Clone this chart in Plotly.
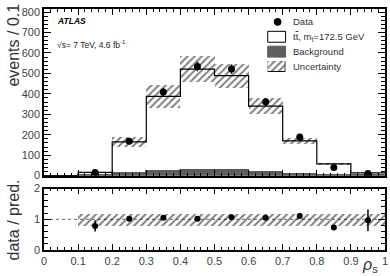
import plotly.graph_objects as go

# ---- data ----
edges = [0.0, 0.1, 0.2, 0.3, 0.4, 0.5, 0.6, 0.7, 0.8, 0.9, 1.0]
centers = [0.05, 0.15, 0.25, 0.35, 0.45, 0.55, 0.65, 0.75, 0.85, 0.95]
mc_total = [0, 16, 165, 388, 521, 489, 340, 170, 57, 13]
background = [0, 3, 13, 23, 28, 29, 19, 6, 2, 1]
mc_unc = [0, 4, 25, 55, 65, 59, 40, 16, 6, 2]
data_x = [0.15, 0.25, 0.35, 0.45, 0.55, 0.65, 0.75, 0.85, 0.95]
data_y = [15, 168, 409, 534, 521, 361, 189, 40, 11]
data_err = [4, 13, 20, 23, 23, 19, 14, 6, 3]
ratio_y = [0.78, 1.02, 1.05, 1.02, 1.07, 1.05, 1.11, 0.73, 0.97]
ratio_err = [0.18, 0.08, 0.05, 0.05, 0.05, 0.06, 0.08, 0.06, 0.35]
band_x = [0.15, 0.25, 0.35, 0.45, 0.55, 0.65, 0.75, 0.85, 0.95]
band_unc = [0.19, 0.19, 0.19, 0.19, 0.19, 0.19, 0.19, 0.19, 0.19]
legend_labels = ["Data", "t<span style='text-decoration:overline'>t</span>, m<sub>t</sub>=172.5 GeV", "Background", "Uncertainty"]

FONT = "Liberation Sans, Arial, sans-serif"
HATCH = dict(shape="/", fgcolor="black", bgcolor="rgba(0,0,0,0)", size=5, solidity=0.4)
BG_COLOR = "#5e5e5e"

fig = go.Figure()

# background histogram
fig.add_trace(go.Bar(x=centers, y=background, width=0.1, marker=dict(color=BG_COLOR, line=dict(color="#3a3a3a", width=0.8)),
                     showlegend=False, xaxis="x", yaxis="y"))
# total prediction step line
fig.add_trace(go.Scatter(x=edges, y=mc_total + [mc_total[-1]], mode="lines", line=dict(shape="hv", color="black", width=1.2),
                         showlegend=False, xaxis="x", yaxis="y", hoverinfo="skip"))
# uncertainty band
fig.add_trace(go.Bar(x=centers, y=[2 * u for u in mc_unc], base=[t - u for t, u in zip(mc_total, mc_unc)], width=0.1,
                     marker=dict(color="rgba(0,0,0,0)", line=dict(width=0), pattern=HATCH),
                     showlegend=False, xaxis="x", yaxis="y"))
# data
fig.add_trace(go.Scatter(x=data_x, y=data_y, mode="markers", marker=dict(color="black", size=7),
                         error_y=dict(array=data_err, color="black", thickness=1.5, width=0),
                         showlegend=False, xaxis="x", yaxis="y"))

# ratio band
fig.add_trace(go.Bar(x=band_x, y=[2 * u for u in band_unc], base=[1 - u for u in band_unc], width=0.1,
                     marker=dict(color="rgba(0,0,0,0)", line=dict(width=0), pattern=HATCH),
                     showlegend=False, xaxis="x2", yaxis="y2"))
fig.add_trace(go.Scatter(x=data_x, y=ratio_y, mode="markers", marker=dict(color="black", size=6),
                         error_y=dict(array=ratio_err, color="black", thickness=1.5, width=0),
                         showlegend=False, xaxis="x2", yaxis="y2"))

# legend swatch for uncertainty (hatched box on its own tiny axis)
fig.add_trace(go.Bar(x=[0.5], y=[1], width=1, marker=dict(color="white", line=dict(color="black", width=1),
                     pattern=dict(shape="/", fgcolor="black", bgcolor="white", size=5, solidity=0.4)),
                     showlegend=False, xaxis="x3", yaxis="y3", hoverinfo="skip"))

fig.add_shape(type="line", xref="x2", yref="y2", x0=0, x1=1, y0=1, y1=1, line=dict(color="#888", width=1.2, dash="dot"), layer="below")

# ---- custom legend ----
def px2x(px):
    return (px - 44) / 343.0

def py2y(py):
    return (250 - py) / 243.0

rows = [20, 35, 50, 65]
fig.add_shape(type="circle", xref="paper", yref="paper", x0=px2x(275.5), x1=px2x(282.5), y0=py2y(23.5), y1=py2y(16.5),
              fillcolor="black", line=dict(color="black", width=1))
fig.add_shape(type="rect", xref="paper", yref="paper", x0=px2x(269), x1=px2x(287), y0=py2y(40.5), y1=py2y(29.5),
              fillcolor="white", line=dict(color="black", width=1))
fig.add_shape(type="rect", xref="paper", yref="paper", x0=px2x(269), x1=px2x(287), y0=py2y(55.5), y1=py2y(44.5),
              fillcolor=BG_COLOR, line=dict(color=BG_COLOR, width=1))
for lab, r in zip(legend_labels, rows):
    fig.add_annotation(text=lab, x=px2x(292), y=py2y(r), xref="paper", yref="paper", xanchor="left", yanchor="middle",
                       showarrow=False, font=dict(family=FONT, size=9.5, color="#333"))

axis_common = dict(showline=True, linecolor="black", linewidth=1.5, mirror="allticks", ticks="inside",
                   tickcolor="black", showgrid=False, zeroline=False,
                   tickfont=dict(family=FONT, size=11, color="#444"))

fig.update_layout(
    width=390, height=276, margin=dict(l=44, r=3, t=7, b=26),
    plot_bgcolor="white", paper_bgcolor="white", barmode="overlay", bargap=0, showlegend=False,
    xaxis=dict(domain=[0, 1], range=[0, 1], anchor="y", dtick=0.1, ticklen=6, showticklabels=False,
               minor=dict(dtick=0.02, ticks="inside", ticklen=3, tickcolor="black"), **axis_common),
    yaxis=dict(domain=[0.3086, 1], range=[0, 815], anchor="x", dtick=100, ticklen=7,
               minor=dict(dtick=20, ticks="inside", ticklen=4, tickcolor="black"), **axis_common),
    xaxis2=dict(domain=[0, 1], range=[0, 1], anchor="y2", dtick=0.1, ticklen=6,
                minor=dict(dtick=0.02, ticks="inside", ticklen=3, tickcolor="black"), **axis_common),
    yaxis2=dict(domain=[0, 0.255], range=[0, 2], anchor="x2", dtick=1, ticklen=7,
                minor=dict(dtick=0.2, ticks="inside", ticklen=4, tickcolor="black"), **axis_common),
    xaxis3=dict(domain=[px2x(269), px2x(287)], range=[0, 1], anchor="y3", visible=False, fixedrange=True),
    yaxis3=dict(domain=[py2y(70.5), py2y(59.5)], range=[0, 1], anchor="x3", visible=False, fixedrange=True),
)

fig.add_annotation(text="<b><i>ATLAS</i></b>", x=0.032, y=0.95, xref="paper", yref="paper", xanchor="left", yanchor="middle",
                   showarrow=False, font=dict(family=FONT, size=8.5, color="black"))
fig.add_annotation(text="\u221as= 7 TeV, 4.6 fb<sup>-1</sup>", x=0.032, y=0.853, xref="paper", yref="paper", xanchor="left", yanchor="middle",
                   showarrow=False, font=dict(family=FONT, size=8.5, color="#222"))
fig.add_annotation(text="events / 0.1", x=-0.09, y=1.03, xref="paper", yref="paper", xanchor="center", yanchor="top",
                   textangle=-90, showarrow=False, font=dict(family=FONT, size=16, color="#333"))
fig.add_annotation(text="data / pred.", x=-0.09, y=0.124, xref="paper", yref="paper", xanchor="center", yanchor="middle",
                   textangle=-90, showarrow=False, font=dict(family=FONT, size=16, color="#333"))
fig.add_annotation(text="<i>\u03c1</i><sub>s</sub>", x=0.955, y=-0.066, xref="paper", yref="paper", xanchor="center", yanchor="middle",
                   showarrow=False, font=dict(family=FONT, size=16, color="#333"))

fig.write_html("out.html")
